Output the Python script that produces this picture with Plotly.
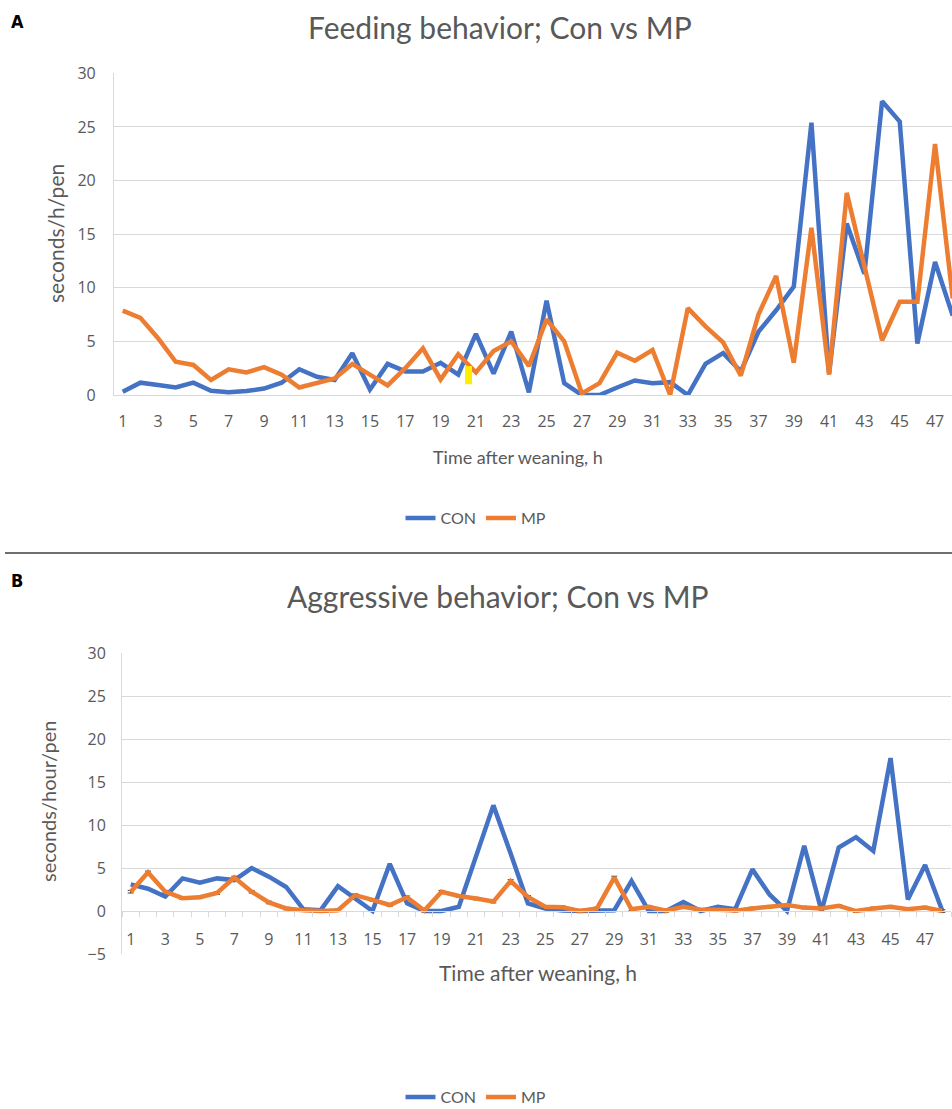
import plotly.graph_objects as go

# ---------------- data ----------------
hours = list(range(1, 49))

feed_con = [0.3, 1.15, 0.93, 0.7, 1.15, 0.4, 0.25, 0.37, 0.6, 1.15,
            2.4, 1.7, 1.4, 3.9, 0.5, 2.9, 2.2, 2.2, 3.0, 1.9,
            5.7, 2.0, 5.9, 0.25, 8.8, 1.1, 0.0, 0.0, 0.7, 1.35,
            1.1, 1.2, 0.0, 2.9, 3.9, 2.2, 5.9, 7.9, 10.1, 25.4,
            2.0, 16.0, 11.3, 27.4, 25.5, 4.8, 12.4, 7.4]
feed_mp = [7.86, 7.2, 5.3, 3.1, 2.8, 1.4, 2.4, 2.1, 2.6, 1.9,
           0.7, 1.15, 1.55, 2.9, 1.9, 0.9, 2.5, 4.35, 1.45, 3.8,
           2.1, 4.1, 5.0, 2.7, 7.05, 5.0, 0.15, 1.1, 3.95, 3.2,
           4.2, 0.0, 8.1, 6.4, 4.9, 1.8, 7.5, 11.1, 3.0, 15.6,
           1.9, 18.85, 12.0, 5.1, 8.7, 8.7, 23.4, 9.0]

aggr_con = [3.1, 2.6, 1.7, 3.8, 3.3, 3.8, 3.6, 5.0, 4.0, 2.8,
            0.2, 0.1, 2.9, 1.5, 0.0, 5.5, 0.9, 0.0, 0.0, 0.5,
            6.3, 12.3, 6.7, 0.9, 0.3, 0.05, 0.0, 0.0, 0.1, 3.5,
            0.0, 0.0, 1.05, 0.0, 0.5, 0.2, 4.85, 1.9, 0.0, 7.6,
            0.0, 7.4, 8.6, 7.0, 17.8, 1.35, 5.35, 0.0]
aggr_mp = [2.25, 4.5, 2.25, 1.5, 1.6, 2.1, 3.9, 2.25, 1.0, 0.3,
           0.1, 0.0, 0.1, 1.85, 1.3, 0.7, 1.6, 0.05, 2.25, 1.75,
           1.45, 1.1, 3.5, 1.65, 0.5, 0.45, 0.0, 0.3, 3.9, 0.2,
           0.5, 0.05, 0.5, 0.15, 0.15, 0.05, 0.3, 0.5, 0.7, 0.4,
           0.3, 0.6, 0.0, 0.3, 0.5, 0.2, 0.4, 0.0]
aggr_mp_err = [0.15] * 48

tick_hours = list(range(1, 48, 2))
tick_labels = [str(h) for h in tick_hours]
boundaries = [h + 0.5 for h in range(0, 49)]

series_names = ["CON", "MP"]
titles = ["Feeding behavior; Con vs MP", "Aggressive behavior; Con vs MP"]
y_titles = ["seconds/h/pen", "seconds/hour/pen"]
x_title = "Time after weaning, h"

# ---------------- style ----------------
W, H = 952, 1109
BLUE = "#4472C4"
ORANGE = "#ED7D31"
GRID = "#d9d9d9"
TXT = "#595959"
TICKFONT = dict(family="Open Sans, DejaVu Sans, sans-serif", size=16, color=TXT)
LABFONT = "Lato, Open Sans, sans-serif"
PANELFONT = dict(family="Liberation Sans Narrow, DejaVu Sans Condensed, sans-serif",
                 size=18, color="black")


def px_x(p):
    return p / W


def px_y(p):
    return 1 - p / H


fig = go.Figure()

# Panel A
fig.add_trace(go.Scatter(x=hours, y=feed_con, name=series_names[0], mode="lines",
                         line=dict(color=BLUE, width=4.5), xaxis="x", yaxis="y",
                         legend="legend"))
fig.add_trace(go.Scatter(x=hours, y=feed_mp, name=series_names[1], mode="lines",
                         line=dict(color=ORANGE, width=4.5), xaxis="x", yaxis="y",
                         legend="legend"))
# Panel B
fig.add_trace(go.Scatter(x=hours, y=aggr_con, name=series_names[0], mode="lines",
                         line=dict(color=BLUE, width=4.5), xaxis="x2", yaxis="y2",
                         legend="legend2"))
fig.add_trace(go.Scatter(x=hours, y=aggr_mp, name=series_names[1], mode="lines",
                         line=dict(color=ORANGE, width=4.5), xaxis="x2", yaxis="y2",
                         error_y=dict(type="data", array=aggr_mp_err, visible=True,
                                      color="#404040", thickness=1, width=3),
                         legend="legend2"))

fig.update_layout(
    width=W, height=H,
    margin=dict(l=0, r=0, t=0, b=0, autoexpand=False),
    paper_bgcolor="white", plot_bgcolor="white",
    showlegend=True,
    xaxis=dict(domain=[px_x(113.9), 1.0], range=[0.5, 47.96], anchor="y",
               tickmode="array", tickvals=tick_hours, ticktext=tick_labels,
               ticks="", ticklabelstandoff=12, tickfont=TICKFONT,
               showgrid=False, zeroline=False, showline=True, linecolor=GRID,
               linewidth=1),
    yaxis=dict(domain=[px_y(395), px_y(73.3)], range=[0, 30], anchor="x",
               dtick=5, tick0=0, showgrid=True, gridcolor=GRID, gridwidth=1,
               zeroline=False, showline=True, linecolor=GRID, ticks="",
               ticklabelstandoff=14, tickfont=TICKFONT),
    xaxis2=dict(domain=[px_x(122.1), px_x(951)], range=[0.5, 48.5],
                anchor="free", position=px_y(911),
                tickmode="array", tickvals=tick_hours, ticktext=tick_labels,
                ticks="", ticklabelstandoff=14, tickfont=TICKFONT,
                showgrid=False, zeroline=False, showline=True, linecolor=GRID,
                linewidth=1,
                minor=dict(tickmode="array", tickvals=boundaries, ticks="outside",
                           ticklen=5, tickcolor=GRID, showgrid=False)),
    yaxis2=dict(domain=[px_y(954), px_y(653.3)], range=[-5, 30], anchor="x2",
                dtick=5, tick0=0, showgrid=True, gridcolor=GRID, gridwidth=1,
                zeroline=False, showline=True, linecolor=GRID, ticks="",
                ticklabelstandoff=12, tickfont=TICKFONT),
    legend=dict(orientation="h", x=0.5, xanchor="center", y=px_y(518),
                yanchor="middle", font=dict(family=LABFONT, size=16, color=TXT),
                bgcolor="rgba(0,0,0,0)"),
    legend2=dict(orientation="h", x=0.5, xanchor="center", y=px_y(1097),
                 yanchor="middle", font=dict(family=LABFONT, size=16, color=TXT),
                 bgcolor="rgba(0,0,0,0)"),
)


def ann(text, x, y, font, angle=0):
    return dict(text=text, x=px_x(x), y=px_y(y), xref="paper", yref="paper",
                xanchor="center", yanchor="middle", showarrow=False,
                textangle=angle, font=font)


annotations = [
    ann("<b>A</b>", 17, 22, PANELFONT),
    ann("<b>B</b>", 17, 580, PANELFONT),
    ann(titles[0], 500, 27, dict(family=LABFONT, size=30, color=TXT)),
    ann(titles[1], 498, 596, dict(family=LABFONT, size=30, color=TXT)),
    ann(x_title, 518, 457, dict(family=LABFONT, size=18, color=TXT)),
    ann(x_title, 538, 972, dict(family=LABFONT, size=21, color=TXT)),
    ann(y_titles[0], 55, 234, dict(family=LABFONT, size=21, color=TXT), -90),
    ann(y_titles[1], 48, 801, dict(family=LABFONT, size=20, color=TXT), -90),
]
fig.update_layout(annotations=annotations)

fig.update_layout(shapes=[
    dict(type="line", xref="paper", yref="paper", x0=px_x(5), x1=1.0,
         y0=px_y(553), y1=px_y(553), line=dict(color="#6f6f6f", width=2)),
    dict(type="rect", xref="x", yref="y", x0=20.38, x1=20.78, y0=1.0, y1=2.7,
         fillcolor="#ffee00", line=dict(width=0), layer="above"),
])

fig.write_html(
    "out.html",
    config={"displayModeBar": False},
    post_script="document.body.style.margin='0px';document.body.style.overflow='hidden';",
)
